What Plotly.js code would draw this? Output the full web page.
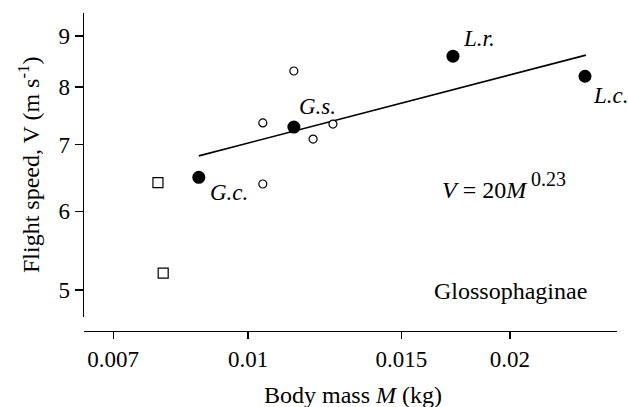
<!DOCTYPE html>
<html>
<head>
<meta charset="utf-8">
<script src="https://cdn.plot.ly/plotly-3.0.1.min.js"></script>
<style>html,body{margin:0;padding:0;background:#fff;}#chart{width:628px;height:407px;}</style>
</head>
<body>
<div id="chart"></div>
<script>
// Named species (filled circles)
const speciesMass = [0.00878, 0.01129, 0.01720, 0.02439];
const speciesSpeed = [6.49, 7.29, 8.59, 8.20];
const speciesLabels = ['G.c.', 'G.s.', 'L.r.', 'L.c.'];
// Other individuals (open circles)
const otherMass = [0.01129, 0.01040, 0.01188, 0.01252, 0.01040];
const otherSpeed = [8.30, 7.36, 7.09, 7.34, 6.39];
// Open squares
const squareMass = [0.00788, 0.00799];
const squareSpeed = [6.41, 5.20];
// Fitted line endpoints, V = 20 M^0.23
const fitMass = [0.00878, 0.02445];
const fitSpeed = [6.82, 8.61];
// Ticks
const xTickVals = [0.007, 0.01, 0.015, 0.02];
const xTickText = ['0.007', '0.01', '0.015', '0.02'];
const yTickVals = [5, 6, 7, 8, 9];

const FONT = 'Liberation Serif, Times New Roman, serif';
const f = (s) => ({family: FONT, size: s, color: '#000'});

const traces = [
  {x: fitMass, y: fitSpeed, mode: 'lines', line: {color: '#000', width: 1.6}, hoverinfo: 'skip'},
  {x: squareMass, y: squareSpeed, mode: 'markers',
   marker: {symbol: 'square-open', size: 10, color: '#000', line: {width: 1.2, color: '#000'}}},
  {x: otherMass, y: otherSpeed, mode: 'markers',
   marker: {symbol: 'circle', size: 8, color: '#fff', line: {width: 1.2, color: '#000'}}},
  {x: speciesMass, y: speciesSpeed, mode: 'markers',
   marker: {symbol: 'circle', size: 13, color: '#000', line: {width: 0}}}
];

const labelShift = [[9, -15], [3, 21], [8, 18], [6, -19]];
const annotations = speciesLabels.map((t, i) => ({
  text: '<i>' + t + '</i>', xref: 'x', yref: 'y',
  x: Math.log10(speciesMass[i]), y: Math.log10(speciesSpeed[i]),
  xanchor: 'left', yanchor: 'middle', showarrow: false,
  xshift: labelShift[i][0], yshift: labelShift[i][1],
  font: f(23)
}));
annotations.push(
  {text: '<i>V</i> = 20<i>M</i>', xref: 'paper', yref: 'paper', x: 0.668, y: 0.444,
   xanchor: 'left', yanchor: 'middle', showarrow: false, font: f(24)},
  {text: '0.23', xref: 'paper', yref: 'paper', x: 0.835, y: 0.479,
   xanchor: 'left', yanchor: 'middle', showarrow: false, font: f(20)},
  {text: 'Glossophaginae', xref: 'paper', yref: 'paper', x: 0.653, y: 0.126,
   xanchor: 'left', yanchor: 'middle', showarrow: false, font: f(24)},
  {text: 'Flight speed, V (m s<sup>-1</sup>)', xref: 'paper', yref: 'paper', x: -0.1032, y: 0.522,
   xanchor: 'center', yanchor: 'middle', textangle: -90, showarrow: false, font: f(24)},
  {text: 'Body mass <i>M</i> (kg)', xref: 'paper', yref: 'paper', x: 0.505, y: -0.2,
   xanchor: 'center', yanchor: 'middle', showarrow: false, font: f(24)}
);

const layout = {
  width: 628, height: 407,
  margin: {l: 84, r: 11, t: 13, b: 76},
  paper_bgcolor: '#fff', plot_bgcolor: '#fff',
  showlegend: false,
  font: f(23),
  xaxis: {
    type: 'log', range: [-2.18844, -1.57601], anchor: 'free', position: 0,
    tickvals: xTickVals, ticktext: xTickText,
    ticks: 'outside', ticklen: 7, tickwidth: 1.3, tickcolor: '#000',
    showline: true, linecolor: '#000', linewidth: 1.3,
    showgrid: false, zeroline: false,
    tickfont: f(23)
  },
  yaxis: {
    type: 'log', range: [0.67183, 0.97736], domain: [14 / 318, 1],
    tickvals: yTickVals, ticktext: yTickVals.map(String),
    ticks: 'outside', ticklen: 8, tickwidth: 1.3, tickcolor: '#000',
    showline: true, linecolor: '#000', linewidth: 1.3,
    showgrid: false, zeroline: false,
    tickfont: f(23)
  },
  annotations: annotations
};

Plotly.newPlot('chart', traces, layout, {displayModeBar: false, staticPlot: true});
</script>
</body>
</html>
